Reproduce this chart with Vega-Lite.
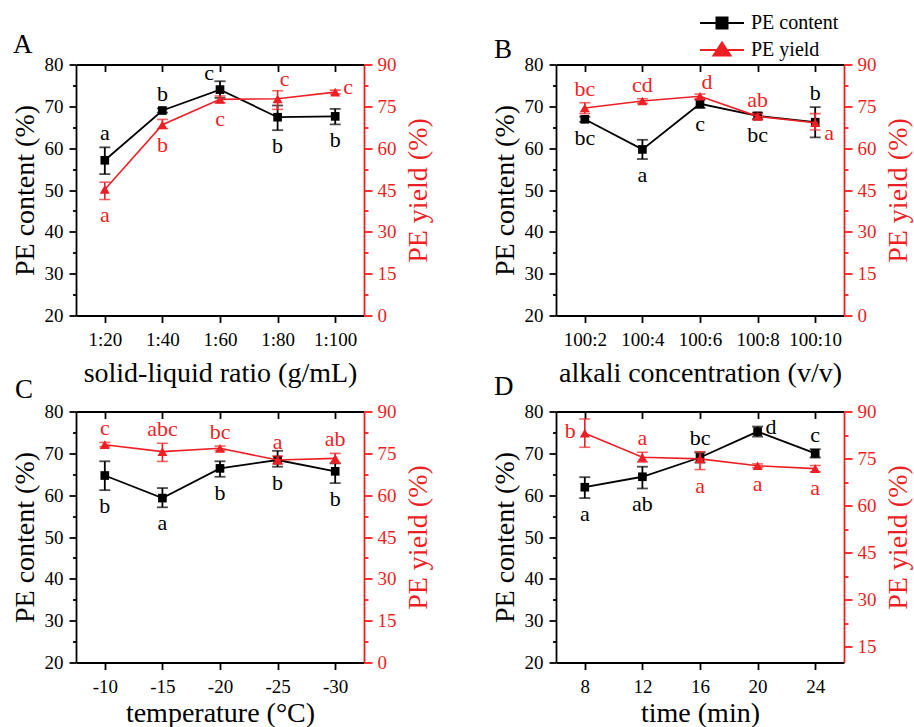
{
  "$schema": "https://vega.github.io/schema/vega-lite/v6.json",
  "autosize": {"type": "none"},
  "padding": {"left": 76, "top": 64.5, "right": 838, "bottom": 662.5},
  "background": "white",
  "bounds": "flush",
  "columns": 2,
  "spacing": {"row": 96, "column": 192},
  "config": {
    "font": "Liberation Serif",
    "view": {"stroke": null},
    "style": {"guide-title": {"font": "Liberation Serif"}, "guide-label": {"font": "Liberation Serif"}},
    "axis": {"labelFont": "Liberation Serif", "titleFont": "Liberation Serif", "labelFontSize": 19, "titleFontSize": 28, "titleFontWeight": "normal", "labelColor": "black", "titleColor": "black", "domainColor": "black", "tickColor": "black", "domainWidth": 1.8, "tickWidth": 1.8, "grid": false, "labelOverlap": false, "labelFlush": false},
    "legend": {"labelFont": "Liberation Serif"},
    "title": {"anchor": "start", "frame": "group", "fontSize": 27, "fontWeight": "normal", "font": "Liberation Serif", "baseline": "alphabetic", "color": "black"},
    "text": {"font": "Liberation Serif", "fontSize": 22, "baseline": "alphabetic", "align": "center"}
  },
  "concat": [
    {
      "width": 288, "height": 251,
      "title": {"text": "A", "offset": -3.5, "dx": -63},
      "data": {"values": [
        {"x": "1:20", "c": 57.1, "clo": 53.8, "chi": 60.2, "y": 45.2, "ylo": 41.6, "yhi": 47.8, "cl": "a", "cs": "t", "yl": "a", "ys": "b"},
        {"x": "1:40", "c": 69.0, "clo": 68.5, "chi": 69.5, "y": 68.4, "ylo": 67.0, "yhi": 70.3, "cl": "b", "cs": "t", "yl": "b", "ys": "b"},
        {"x": "1:60", "c": 74.0, "clo": 72.0, "chi": 76.0, "y": 77.5, "ylo": 76.3, "yhi": 78.7, "cl": "c", "cs": "tl", "yl": "c", "ys": "b"},
        {"x": "1:80", "c": 67.4, "clo": 64.3, "chi": 70.2, "y": 77.7, "ylo": 73.9, "yhi": 80.6, "cl": "b", "cs": "b", "yl": "c", "ys": "tr"},
        {"x": "1:100", "c": 67.6, "clo": 65.7, "chi": 69.4, "y": 80.1, "ylo": 79.4, "yhi": 80.8, "cl": "b", "cs": "b", "yl": "c", "ys": "r"}
      ]},
      "layer": [
        {
          "encoding": {
            "x": {"field": "x", "type": "ordinal", "sort": null, "scale": {"type": "point", "padding": 0.5}, "axis": {"orient": "bottom", "title": "solid-liquid ratio (g/mL)", "titleFont": "Liberation Serif", "labelFont": "Liberation Serif", "tickSize": 7, "labelPadding": 8, "titlePadding": 10, "labelAngle": 0}},
            "y": {"field": "c", "type": "quantitative", "scale": {"domain": [20, 80], "nice": false, "zero": false}, "axis": {"title": "PE content (%)", "titleFont": "Liberation Serif", "labelFont": "Liberation Serif", "orient": "left", "values": [20, 25, 30, 35, 40, 45, 50, 55, 60, 65, 70, 75, 80], "tickSize": {"condition": {"test": "datum.value % 10 === 0", "value": 7}, "value": 3.5}, "labelExpr": "datum.value % 10 === 0 ? datum.label : ''", "labelPadding": 6, "titlePadding": 5}}
          },
          "layer": [
            {"mark": {"type": "line", "color": "black", "strokeWidth": 1.8}},
            {"mark": {"type": "rule", "color": "black", "strokeWidth": 1.8}, "encoding": {"y": {"field": "clo", "type": "quantitative"}, "y2": {"field": "chi"}}},
            {"mark": {"type": "tick", "color": "black", "size": 11, "thickness": 1.8}, "encoding": {"y": {"field": "clo", "type": "quantitative"}}},
            {"mark": {"type": "tick", "color": "black", "size": 11, "thickness": 1.8}, "encoding": {"y": {"field": "chi", "type": "quantitative"}}},
            {"mark": {"type": "point", "shape": "square", "filled": true, "size": 75, "color": "black", "opacity": 1}},
            {"transform": [{"filter": "datum.cs == 't'"}], "mark": {"type": "text", "color": "black", "dy": -7}, "encoding": {"y": {"field": "chi", "type": "quantitative"}, "text": {"field": "cl"}}},
            {"transform": [{"filter": "datum.cs == 'tl'"}], "mark": {"type": "text", "color": "black", "dx": -11, "dy": -1}, "encoding": {"y": {"field": "chi", "type": "quantitative"}, "text": {"field": "cl"}}},
            {"transform": [{"filter": "datum.cs == 'b'"}], "mark": {"type": "text", "color": "black", "dy": 23}, "encoding": {"y": {"field": "clo", "type": "quantitative"}, "text": {"field": "cl"}}}
          ]
        },
        {
          "encoding": {
            "x": {"field": "x", "type": "ordinal", "sort": null, "scale": {"type": "point", "padding": 0.5}, "axis": {"orient": "top", "labels": false, "title": null, "tickSize": -7}},
            "y": {"field": "y", "type": "quantitative", "scale": {"domain": [0, 90], "nice": false, "zero": false}, "axis": {"title": "PE yield (%)", "titleFont": "Liberation Serif", "labelFont": "Liberation Serif", "orient": "right", "values": [0, 7.5, 15, 22.5, 30, 37.5, 45, 52.5, 60, 67.5, 75, 82.5, 90], "tickSize": {"condition": {"test": "datum.value % 15 === 0", "value": 8}, "value": 4}, "labelExpr": "datum.value % 15 === 0 ? datum.label : ''", "domainColor": "#ee1f24", "tickColor": "#ee1f24", "labelColor": "#ee1f24", "titleColor": "#ee1f24", "labelPadding": 5, "titlePadding": 8, "titleAngle": 270, "titleBaseline": "top"}}
          },
          "layer": [
            {"mark": {"type": "line", "color": "#ee1f24", "strokeWidth": 1.6}},
            {"mark": {"type": "rule", "color": "#ee1f24", "strokeWidth": 1.6}, "encoding": {"y": {"field": "ylo", "type": "quantitative"}, "y2": {"field": "yhi"}}},
            {"mark": {"type": "tick", "color": "#ee1f24", "size": 11, "thickness": 1.6}, "encoding": {"y": {"field": "ylo", "type": "quantitative"}}},
            {"mark": {"type": "tick", "color": "#ee1f24", "size": 11, "thickness": 1.6}, "encoding": {"y": {"field": "yhi", "type": "quantitative"}}},
            {"mark": {"type": "point", "shape": "triangle-up", "filled": true, "size": 100, "color": "#ee1f24", "opacity": 1}},
            {"transform": [{"filter": "datum.ys == 'b'"}], "mark": {"type": "text", "color": "#ee1f24", "dy": 23}, "encoding": {"y": {"field": "ylo", "type": "quantitative"}, "text": {"field": "yl"}}},
            {"transform": [{"filter": "datum.ys == 'tr'"}], "mark": {"type": "text", "color": "#ee1f24", "dx": 7, "dy": -5}, "encoding": {"y": {"field": "yhi", "type": "quantitative"}, "text": {"field": "yl"}}},
            {"transform": [{"filter": "datum.ys == 'r'"}], "mark": {"type": "text", "color": "#ee1f24", "align": "left", "dx": 8, "dy": 2}, "encoding": {"y": {"field": "y", "type": "quantitative"}, "text": {"field": "yl"}}}
          ]
        }
      ],
      "resolve": {"scale": {"x": "independent", "y": "independent"}, "axis": {"x": "independent", "y": "independent"}}
    },
    {
      "width": 288, "height": 251,
      "title": {"text": "B", "offset": -8.5, "dx": -62},
      "data": {"values": [
        {"x": "100:2", "c": 66.9, "clo": 66.3, "chi": 67.5, "y": 74.4, "ylo": 72.4, "yhi": 76.3, "cl": "bc", "cs": "b", "yl": "bc", "ys": "t"},
        {"x": "100:4", "c": 59.7, "clo": 57.4, "chi": 62.0, "y": 76.9, "ylo": 76.1, "yhi": 77.7, "cl": "a", "cs": "b", "yl": "cd", "ys": "t"},
        {"x": "100:6", "c": 70.6, "clo": 69.6, "chi": 71.6, "y": 78.6, "ylo": 77.8, "yhi": 79.4, "cl": "c", "cs": "b", "yl": "d", "ys": "tr"},
        {"x": "100:8", "c": 67.7, "clo": 66.9, "chi": 68.5, "y": 71.4, "ylo": 70.4, "yhi": 72.4, "cl": "bc", "cs": "b", "yl": "ab", "ys": "t"},
        {"x": "100:10", "c": 66.2, "clo": 62.6, "chi": 69.8, "y": 69.1, "ylo": 66.5, "yhi": 72.4, "cl": "b", "cs": "t", "yl": "a", "ys": "br"}
      ]},
      "layer": [
        {
          "encoding": {
            "x": {"field": "x", "type": "ordinal", "sort": null, "scale": {"type": "point", "padding": 0.5}, "axis": {"orient": "bottom", "title": "alkali concentration (v/v)", "titleFont": "Liberation Serif", "labelFont": "Liberation Serif", "tickSize": 7, "labelPadding": 8, "titlePadding": 10, "labelAngle": 0}},
            "y": {"field": "c", "type": "quantitative", "scale": {"domain": [20, 80], "nice": false, "zero": false}, "axis": {"title": "PE content (%)", "titleFont": "Liberation Serif", "labelFont": "Liberation Serif", "orient": "left", "values": [20, 25, 30, 35, 40, 45, 50, 55, 60, 65, 70, 75, 80], "tickSize": {"condition": {"test": "datum.value % 10 === 0", "value": 7}, "value": 3.5}, "labelExpr": "datum.value % 10 === 0 ? datum.label : ''", "labelPadding": 6, "titlePadding": 5}}
          },
          "layer": [
            {"mark": {"type": "line", "color": "black", "strokeWidth": 1.8}},
            {"mark": {"type": "rule", "color": "black", "strokeWidth": 1.8}, "encoding": {"y": {"field": "clo", "type": "quantitative"}, "y2": {"field": "chi"}}},
            {"mark": {"type": "tick", "color": "black", "size": 11, "thickness": 1.8}, "encoding": {"y": {"field": "clo", "type": "quantitative"}}},
            {"mark": {"type": "tick", "color": "black", "size": 11, "thickness": 1.8}, "encoding": {"y": {"field": "chi", "type": "quantitative"}}},
            {"mark": {"type": "point", "shape": "square", "filled": true, "size": 75, "color": "black", "opacity": 1}},
            {"mark": {"type": "point", "filled": true, "size": 1, "opacity": 0}, "encoding": {"color": {"datum": "PE content", "type": "nominal", "scale": {"domain": ["PE content", "PE yield"], "range": ["black", "#ee1f24"]}, "legend": {"orient": "none", "legendX": 635, "legendY": -52.5, "title": null, "symbolSize": 400, "symbolOpacity": 1, "symbolStrokeWidth": 2, "symbolType": {"expr": "datum.value === 'PE content' ? 'M-2.2,0H2.2M-0.55,-0.55H0.55V0.55H-0.55Z' : 'M-2.2,0H2.2M0,-0.75L0.85,0.55H-0.85Z'"}, "symbolStrokeColor": {"expr": "datum.value === 'PE content' ? 'black' : '#ee1f24'"}, "symbolFillColor": {"expr": "datum.value === 'PE content' ? 'black' : '#ee1f24'"}, "labelFontSize": 20, "labelFont": "Liberation Serif", "labelColor": "black", "labelOffset": 18, "rowPadding": 5, "padding": 0, "labelBaseline": "middle"}}}},
            {"transform": [{"filter": "datum.cs == 't'"}], "mark": {"type": "text", "color": "black", "dy": -7}, "encoding": {"y": {"field": "chi", "type": "quantitative"}, "text": {"field": "cl"}}},
            {"transform": [{"filter": "datum.cs == 'b'"}], "mark": {"type": "text", "color": "black", "dy": 23}, "encoding": {"y": {"field": "clo", "type": "quantitative"}, "text": {"field": "cl"}}}
          ]
        },
        {
          "encoding": {
            "x": {"field": "x", "type": "ordinal", "sort": null, "scale": {"type": "point", "padding": 0.5}, "axis": {"orient": "top", "labels": false, "title": null, "tickSize": -7}},
            "y": {"field": "y", "type": "quantitative", "scale": {"domain": [0, 90], "nice": false, "zero": false}, "axis": {"title": "PE yield (%)", "titleFont": "Liberation Serif", "labelFont": "Liberation Serif", "orient": "right", "values": [0, 7.5, 15, 22.5, 30, 37.5, 45, 52.5, 60, 67.5, 75, 82.5, 90], "tickSize": {"condition": {"test": "datum.value % 15 === 0", "value": 8}, "value": 4}, "labelExpr": "datum.value % 15 === 0 ? datum.label : ''", "domainColor": "#ee1f24", "tickColor": "#ee1f24", "labelColor": "#ee1f24", "titleColor": "#ee1f24", "labelPadding": 5, "titlePadding": 8, "titleAngle": 270, "titleBaseline": "top"}}
          },
          "layer": [
            {"mark": {"type": "line", "color": "#ee1f24", "strokeWidth": 1.6}},
            {"mark": {"type": "rule", "color": "#ee1f24", "strokeWidth": 1.6}, "encoding": {"y": {"field": "ylo", "type": "quantitative"}, "y2": {"field": "yhi"}}},
            {"mark": {"type": "tick", "color": "#ee1f24", "size": 11, "thickness": 1.6}, "encoding": {"y": {"field": "ylo", "type": "quantitative"}}},
            {"mark": {"type": "tick", "color": "#ee1f24", "size": 11, "thickness": 1.6}, "encoding": {"y": {"field": "yhi", "type": "quantitative"}}},
            {"mark": {"type": "point", "shape": "triangle-up", "filled": true, "size": 100, "color": "#ee1f24", "opacity": 1}},
            {"transform": [{"filter": "datum.ys == 't'"}], "mark": {"type": "text", "color": "#ee1f24", "dy": -7}, "encoding": {"y": {"field": "yhi", "type": "quantitative"}, "text": {"field": "yl"}}},
            {"transform": [{"filter": "datum.ys == 'tr'"}], "mark": {"type": "text", "color": "#ee1f24", "dx": 7, "dy": -5}, "encoding": {"y": {"field": "yhi", "type": "quantitative"}, "text": {"field": "yl"}}},
            {"transform": [{"filter": "datum.ys == 'br'"}], "mark": {"type": "text", "color": "#ee1f24", "align": "left", "dx": 9, "dy": 17}, "encoding": {"y": {"field": "y", "type": "quantitative"}, "text": {"field": "yl"}}}
          ]
        }
      ],
      "resolve": {"scale": {"x": "independent", "y": "independent"}, "axis": {"x": "independent", "y": "independent"}}
    },
    {
      "width": 288, "height": 251,
      "title": {"text": "C", "offset": -1.5, "dx": -61},
      "data": {"values": [
        {"x": "-10", "c": 64.7, "clo": 61.2, "chi": 68.1, "y": 78.1, "ylo": 77.4, "yhi": 78.9, "cl": "b", "cs": "b", "yl": "c", "ys": "t"},
        {"x": "-15", "c": 59.3, "clo": 57.1, "chi": 61.7, "y": 75.6, "ylo": 72.1, "yhi": 78.6, "cl": "a", "cs": "b", "yl": "abc", "ys": "t"},
        {"x": "-20", "c": 66.4, "clo": 64.4, "chi": 68.1, "y": 76.8, "ylo": 76.0, "yhi": 77.6, "cl": "b", "cs": "b", "yl": "bc", "ys": "t"},
        {"x": "-25", "c": 68.4, "clo": 66.8, "chi": 70.6, "y": 72.6, "ylo": 71.2, "yhi": 74.0, "cl": "b", "cs": "b", "yl": "a", "ys": "t"},
        {"x": "-30", "c": 65.7, "clo": 62.9, "chi": 67.6, "y": 73.2, "ylo": 71.5, "yhi": 75.0, "cl": "b", "cs": "b", "yl": "ab", "ys": "t"}
      ]},
      "layer": [
        {
          "encoding": {
            "x": {"field": "x", "type": "ordinal", "sort": null, "scale": {"type": "point", "padding": 0.5}, "axis": {"orient": "bottom", "title": "temperature (°C)", "titleFont": "Liberation Serif", "labelFont": "Liberation Serif", "tickSize": 7, "labelPadding": 8, "titlePadding": 3, "labelAngle": 0}},
            "y": {"field": "c", "type": "quantitative", "scale": {"domain": [20, 80], "nice": false, "zero": false}, "axis": {"title": "PE content (%)", "titleFont": "Liberation Serif", "labelFont": "Liberation Serif", "orient": "left", "values": [20, 25, 30, 35, 40, 45, 50, 55, 60, 65, 70, 75, 80], "tickSize": {"condition": {"test": "datum.value % 10 === 0", "value": 7}, "value": 3.5}, "labelExpr": "datum.value % 10 === 0 ? datum.label : ''", "labelPadding": 6, "titlePadding": 5}}
          },
          "layer": [
            {"mark": {"type": "line", "color": "black", "strokeWidth": 1.8}},
            {"mark": {"type": "rule", "color": "black", "strokeWidth": 1.8}, "encoding": {"y": {"field": "clo", "type": "quantitative"}, "y2": {"field": "chi"}}},
            {"mark": {"type": "tick", "color": "black", "size": 11, "thickness": 1.8}, "encoding": {"y": {"field": "clo", "type": "quantitative"}}},
            {"mark": {"type": "tick", "color": "black", "size": 11, "thickness": 1.8}, "encoding": {"y": {"field": "chi", "type": "quantitative"}}},
            {"mark": {"type": "point", "shape": "square", "filled": true, "size": 75, "color": "black", "opacity": 1}},
            {"transform": [{"filter": "datum.cs == 'b'"}], "mark": {"type": "text", "color": "black", "dy": 23}, "encoding": {"y": {"field": "clo", "type": "quantitative"}, "text": {"field": "cl"}}}
          ]
        },
        {
          "encoding": {
            "x": {"field": "x", "type": "ordinal", "sort": null, "scale": {"type": "point", "padding": 0.5}, "axis": {"orient": "top", "labels": false, "title": null, "tickSize": -7}},
            "y": {"field": "y", "type": "quantitative", "scale": {"domain": [0, 90], "nice": false, "zero": false}, "axis": {"title": "PE yield (%)", "titleFont": "Liberation Serif", "labelFont": "Liberation Serif", "orient": "right", "values": [0, 7.5, 15, 22.5, 30, 37.5, 45, 52.5, 60, 67.5, 75, 82.5, 90], "tickSize": {"condition": {"test": "datum.value % 15 === 0", "value": 8}, "value": 4}, "labelExpr": "datum.value % 15 === 0 ? datum.label : ''", "domainColor": "#ee1f24", "tickColor": "#ee1f24", "labelColor": "#ee1f24", "titleColor": "#ee1f24", "labelPadding": 5, "titlePadding": 8, "titleAngle": 270, "titleBaseline": "top"}}
          },
          "layer": [
            {"mark": {"type": "line", "color": "#ee1f24", "strokeWidth": 1.6}},
            {"mark": {"type": "rule", "color": "#ee1f24", "strokeWidth": 1.6}, "encoding": {"y": {"field": "ylo", "type": "quantitative"}, "y2": {"field": "yhi"}}},
            {"mark": {"type": "tick", "color": "#ee1f24", "size": 11, "thickness": 1.6}, "encoding": {"y": {"field": "ylo", "type": "quantitative"}}},
            {"mark": {"type": "tick", "color": "#ee1f24", "size": 11, "thickness": 1.6}, "encoding": {"y": {"field": "yhi", "type": "quantitative"}}},
            {"mark": {"type": "point", "shape": "triangle-up", "filled": true, "size": 100, "color": "#ee1f24", "opacity": 1}},
            {"transform": [{"filter": "datum.ys == 't'"}], "mark": {"type": "text", "color": "#ee1f24", "dy": -7}, "encoding": {"y": {"field": "yhi", "type": "quantitative"}, "text": {"field": "yl"}}}
          ]
        }
      ],
      "resolve": {"scale": {"x": "independent", "y": "independent"}, "axis": {"x": "independent", "y": "independent"}}
    },
    {
      "width": 288, "height": 251,
      "title": {"text": "D", "offset": 1.5, "dx": -62},
      "data": {"values": [
        {"x": "8", "c": 61.9, "clo": 59.3, "chi": 64.3, "y": 83.1, "ylo": 78.6, "yhi": 87.6, "cl": "a", "cs": "b", "yl": "b", "ys": "l"},
        {"x": "12", "c": 64.4, "clo": 61.6, "chi": 66.8, "y": 75.4, "ylo": 73.9, "yhi": 77.0, "cl": "ab", "cs": "b", "yl": "a", "ys": "t"},
        {"x": "16", "c": 69.0, "clo": 67.8, "chi": 70.2, "y": 74.9, "ylo": 71.5, "yhi": 77.2, "cl": "bc", "cs": "t", "yl": "a", "ys": "b"},
        {"x": "20", "c": 75.2, "clo": 74.0, "chi": 76.4, "y": 72.7, "ylo": 72.1, "yhi": 73.3, "cl": "d", "cs": "r", "yl": "a", "ys": "b"},
        {"x": "24", "c": 70.0, "clo": 69.0, "chi": 71.0, "y": 71.8, "ylo": 70.8, "yhi": 72.8, "cl": "c", "cs": "t", "yl": "a", "ys": "b"}
      ]},
      "layer": [
        {
          "encoding": {
            "x": {"field": "x", "type": "ordinal", "sort": null, "scale": {"type": "point", "padding": 0.5}, "axis": {"orient": "bottom", "title": "time (min)", "titleFont": "Liberation Serif", "labelFont": "Liberation Serif", "tickSize": 7, "labelPadding": 8, "titlePadding": 3, "labelAngle": 0}},
            "y": {"field": "c", "type": "quantitative", "scale": {"domain": [20, 80], "nice": false, "zero": false}, "axis": {"title": "PE content (%)", "titleFont": "Liberation Serif", "labelFont": "Liberation Serif", "orient": "left", "values": [20, 25, 30, 35, 40, 45, 50, 55, 60, 65, 70, 75, 80], "tickSize": {"condition": {"test": "datum.value % 10 === 0", "value": 7}, "value": 3.5}, "labelExpr": "datum.value % 10 === 0 ? datum.label : ''", "labelPadding": 6, "titlePadding": 5}}
          },
          "layer": [
            {"mark": {"type": "line", "color": "black", "strokeWidth": 1.8}},
            {"mark": {"type": "rule", "color": "black", "strokeWidth": 1.8}, "encoding": {"y": {"field": "clo", "type": "quantitative"}, "y2": {"field": "chi"}}},
            {"mark": {"type": "tick", "color": "black", "size": 11, "thickness": 1.8}, "encoding": {"y": {"field": "clo", "type": "quantitative"}}},
            {"mark": {"type": "tick", "color": "black", "size": 11, "thickness": 1.8}, "encoding": {"y": {"field": "chi", "type": "quantitative"}}},
            {"mark": {"type": "point", "shape": "square", "filled": true, "size": 75, "color": "black", "opacity": 1}},
            {"transform": [{"filter": "datum.cs == 't'"}], "mark": {"type": "text", "color": "black", "dy": -7}, "encoding": {"y": {"field": "chi", "type": "quantitative"}, "text": {"field": "cl"}}},
            {"transform": [{"filter": "datum.cs == 'b'"}], "mark": {"type": "text", "color": "black", "dy": 23}, "encoding": {"y": {"field": "clo", "type": "quantitative"}, "text": {"field": "cl"}}},
            {"transform": [{"filter": "datum.cs == 'r'"}], "mark": {"type": "text", "color": "black", "align": "left", "dx": 8, "dy": 2}, "encoding": {"y": {"field": "c", "type": "quantitative"}, "text": {"field": "cl"}}}
          ]
        },
        {
          "encoding": {
            "x": {"field": "x", "type": "ordinal", "sort": null, "scale": {"type": "point", "padding": 0.5}, "axis": {"orient": "top", "labels": false, "title": null, "tickSize": -7}},
            "y": {"field": "y", "type": "quantitative", "scale": {"domain": [10, 90], "nice": false, "zero": false}, "axis": {"title": "PE yield (%)", "titleFont": "Liberation Serif", "labelFont": "Liberation Serif", "orient": "right", "values": [15, 22.5, 30, 37.5, 45, 52.5, 60, 67.5, 75, 82.5, 90], "tickSize": {"condition": {"test": "datum.value % 15 === 0", "value": 8}, "value": 4}, "labelExpr": "datum.value % 15 === 0 ? datum.label : ''", "domainColor": "#ee1f24", "tickColor": "#ee1f24", "labelColor": "#ee1f24", "titleColor": "#ee1f24", "labelPadding": 5, "titlePadding": 8, "titleAngle": 270, "titleBaseline": "top"}}
          },
          "layer": [
            {"mark": {"type": "line", "color": "#ee1f24", "strokeWidth": 1.6}},
            {"mark": {"type": "rule", "color": "#ee1f24", "strokeWidth": 1.6}, "encoding": {"y": {"field": "ylo", "type": "quantitative"}, "y2": {"field": "yhi"}}},
            {"mark": {"type": "tick", "color": "#ee1f24", "size": 11, "thickness": 1.6}, "encoding": {"y": {"field": "ylo", "type": "quantitative"}}},
            {"mark": {"type": "tick", "color": "#ee1f24", "size": 11, "thickness": 1.6}, "encoding": {"y": {"field": "yhi", "type": "quantitative"}}},
            {"mark": {"type": "point", "shape": "triangle-up", "filled": true, "size": 100, "color": "#ee1f24", "opacity": 1}},
            {"transform": [{"filter": "datum.ys == 't'"}], "mark": {"type": "text", "color": "#ee1f24", "dy": -7}, "encoding": {"y": {"field": "yhi", "type": "quantitative"}, "text": {"field": "yl"}}},
            {"transform": [{"filter": "datum.ys == 'b'"}], "mark": {"type": "text", "color": "#ee1f24", "dy": 23}, "encoding": {"y": {"field": "ylo", "type": "quantitative"}, "text": {"field": "yl"}}},
            {"transform": [{"filter": "datum.ys == 'l'"}], "mark": {"type": "text", "color": "#ee1f24", "align": "right", "dx": -9, "dy": 5}, "encoding": {"y": {"field": "y", "type": "quantitative"}, "text": {"field": "yl"}}}
          ]
        }
      ],
      "resolve": {"scale": {"x": "independent", "y": "independent"}, "axis": {"x": "independent", "y": "independent"}}
    }
  ]
}
